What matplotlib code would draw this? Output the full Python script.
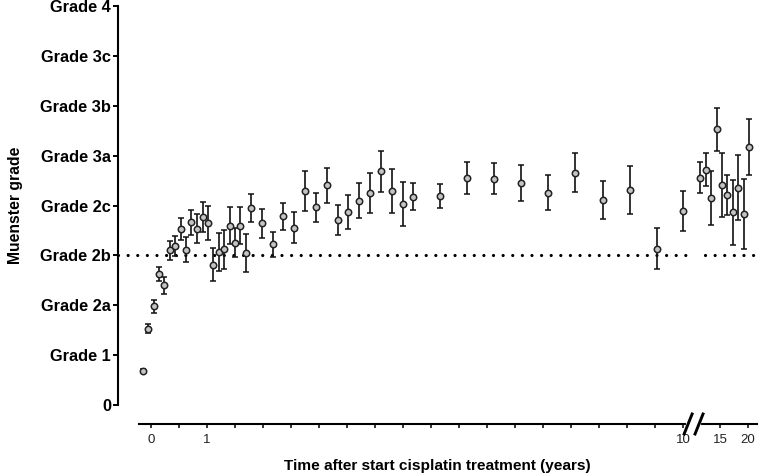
import matplotlib
matplotlib.use('Agg')
import matplotlib.pyplot as plt
import numpy as np
from matplotlib import transforms
from matplotlib.lines import Line2D

plt.rcParams['font.family'] = ['Liberation Sans', 'DejaVu Sans']

# time after start of cisplatin (years)
years = [-0.15, -0.05, 0.05, 0.14, 0.24, 0.34, 0.43, 0.53, 0.63, 0.72, 0.82, 0.92,
         1.01, 1.12, 1.22, 1.32, 1.43, 1.53, 1.63, 1.73, 1.83, 2.04, 2.24, 2.44,
         2.65, 2.86, 3.06, 3.27, 3.47, 3.67, 3.88, 4.08, 4.29, 4.49, 4.70, 4.90,
         5.41, 5.92, 6.43, 6.94, 7.45, 7.96, 8.48, 8.99, 9.50, 10.02,
         11.48, 12.45, 13.39, 14.41, 15.36, 16.30, 17.32, 18.27, 19.23, 20.23]
# mean Muenster grade (0 = 0, 1 = Grade 1, 2 = 2a, 3 = 2b, ...)
grade = [0.69, 1.53, 1.98, 2.63, 2.40, 3.10, 3.18, 3.52, 3.11, 3.66, 3.53, 3.77,
         3.64, 2.81, 3.06, 3.12, 3.59, 3.25, 3.59, 3.05, 3.95, 3.64, 3.22, 3.78,
         3.55, 4.29, 3.96, 4.41, 3.71, 3.87, 4.10, 4.25, 4.69, 4.29, 4.03, 4.18,
         4.19, 4.56, 4.54, 4.45, 4.26, 4.66, 4.11, 4.31, 3.13, 3.89,
         4.56, 4.72, 4.15, 5.53, 4.41, 4.21, 3.86, 4.36, 3.83, 5.17]
err = [0.03, 0.09, 0.13, 0.14, 0.17, 0.19, 0.20, 0.22, 0.25, 0.25, 0.29, 0.30,
       0.34, 0.33, 0.38, 0.39, 0.37, 0.29, 0.37, 0.38, 0.29, 0.29, 0.25, 0.28,
       0.31, 0.41, 0.30, 0.35, 0.31, 0.35, 0.36, 0.40, 0.41, 0.45, 0.44, 0.27,
       0.25, 0.32, 0.31, 0.36, 0.36, 0.39, 0.39, 0.48, 0.41, 0.40,
       0.31, 0.33, 0.54, 0.43, 0.65, 0.41, 0.65, 0.65, 0.71, 0.56]

grade_labels = ['0', 'Grade 1', 'Grade 2a', 'Grade 2b', 'Grade 2c',
                'Grade 3a', 'Grade 3b', 'Grade 3c', 'Grade 4']
ref_grade = 3
xtick_labels = {0: '0', 1: '1', 10: '10', 15: '15', 20: '20'}

# broken time axis: stretched first decade, compressed tail
knot_years = np.array([-2, 0, 1, 10, 11.4, 15, 20, 30])
knot_pos = np.array([-4, 0, 2, 19, 19.6, 20.32, 21.32, 23.32])


def fwd(x):
    return np.interp(x, knot_years, knot_pos)


def inv(u):
    return np.interp(u, knot_pos, knot_years)


fig = plt.figure(figsize=(7.62, 4.75), dpi=100)
ax = fig.add_axes([118 / 762, 1 - 405 / 475, 639 / 762, 399 / 475])
ax.set_xscale('function', functions=(fwd, inv))
xmin, xmax = -0.59, 21.6
ax.set_xlim(xmin, xmax)
ax.set_ylim(0, 8)

# dotted reference line at Grade 2b, interrupted at the axis break
dot = dict(color='black', lw=2.3, linestyle=(0, (0.01, 3.0)),
           dash_capstyle='round', zorder=1)
ax.plot([xmin, 10.25], [ref_grade, ref_grade], **dot)
ax.plot([12.33, xmax], [ref_grade, ref_grade], **dot)

ax.errorbar(years, grade, yerr=err, fmt='o', ms=4.6, mfc='#c4c4c4', mec='#222222',
            mew=1.1, ecolor='#111111', elinewidth=1.2, capsize=2.2, capthick=1.2,
            zorder=3)

for s in ['top', 'right']:
    ax.spines[s].set_visible(False)
ax.spines['left'].set_linewidth(1.5)
ax.spines['left'].set_bounds(0, 8)
ax.spines['bottom'].set_linewidth(1.5)
ax.spines['bottom'].set_position(('outward', 13.7))
ax.spines['bottom'].set_bounds(-0.214, xmax)

ax.set_yticks(range(len(grade_labels)))
ax.set_yticklabels(grade_labels, fontsize=11.8, fontweight='bold')
ax.tick_params(axis='y', length=3.5, width=1.4, pad=1.5)

xt = list(inv(np.arange(0, 20))) + [15, 20]
ax.set_xticks(xt)
ax.set_xticklabels([xtick_labels.get(int(round(v)), '') if abs(v - round(v)) < 1e-6 else ''
                    for v in xt], fontsize=9.5, color='#222222')
ax.xaxis.set_minor_locator(matplotlib.ticker.NullLocator())
ax.tick_params(axis='x', length=3.2, width=1.1, pad=4)

ax.set_xlabel('Time after start cisplatin treatment (years)', fontsize=11.1,
              fontweight='bold', labelpad=9)
ax.set_ylabel('Muenster grade', fontsize=11.3, fontweight='bold')
ax.yaxis.set_label_coords(-0.148, 0.5)

# axis break marks on the x axis
ybase = ax.transAxes.transform((0, 0))[1] - 19
bx = [ax.transData.transform((b, 1))[0] for b in (10.42, 11.33)]
ident = transforms.IdentityTransform()
fig.add_artist(Line2D([bx[0], bx[1]], [ybase, ybase], color='white', lw=3,
                      transform=ident, zorder=5))
for cx in bx:
    fig.add_artist(Line2D([cx - 4, cx + 4], [ybase - 10, ybase + 10], color='black',
                          lw=2.1, transform=ident, zorder=6))

fig.savefig('out.png', dpi=100)
